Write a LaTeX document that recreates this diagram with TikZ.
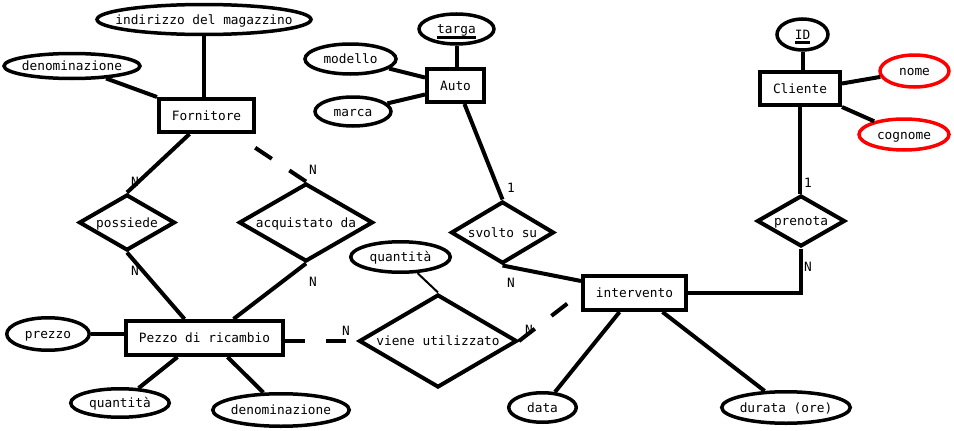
\documentclass[tikz,border=0pt]{standalone}
\usepackage{fontspec}
\setmainfont{DejaVu Sans Mono}
\usetikzlibrary{shapes.geometric}
% key attribute: text with a thick bar below the baseline
\newcommand\keyattr[1]{\vtop{\hbox{\raisebox{0pt}[\height][0pt]{#1}}\kern2pt\hrule height 2.8pt}}
\tikzset{
  every node/.append style={font=\fontsize{12.8}{15}\selectfont, text height=9.5pt, text depth=0pt},
  entity/.style={draw, rectangle, line width=4pt, inner sep=0pt},
  relation/.style={draw, diamond, aspect=1.7, line width=4pt, inner sep=0pt},
  attr/.style={draw, ellipse, line width=3.5pt, inner xsep=-50pt, inner ysep=0pt},
  redattr/.style={attr, draw=red},
  card/.style={inner sep=0pt},
  link/.style={line width=4pt},
  dlink/.style={line width=4pt, dash pattern=on 20pt off 21pt},
  dlinktwo/.style={line width=4pt, dash pattern=on 20pt off 21pt on 20pt off 60pt},
  thinlink/.style={line width=2pt},
}
\begin{document}
\begin{tikzpicture}[x=1pt, y=-1pt]
\useasboundingbox (0,0) rectangle (954,431);

% entities
\node[entity, minimum width=95pt, minimum height=33pt] (forn) at (206.5,115.5) {Fornitore};
\node[entity, minimum width=57pt, minimum height=33pt] (auto) at (455.5,85.5) {Auto};
\node[entity, minimum width=80pt, minimum height=33pt] (cli) at (800,88.5) {Cliente};
\node[entity, minimum width=103pt, minimum height=34pt] (interv) at (634.5,293) {intervento};
\node[entity, minimum width=157pt, minimum height=34pt] (pezzo) at (204.5,338) {Pezzo di ricambio};

% relationships
\node[relation, minimum width=88pt, minimum height=51pt] (pren) at (801,221) {prenota};
\node[relation, minimum width=96pt, minimum height=56pt] (poss) at (127,222.5) {possiede};
\node[relation, minimum width=134pt, minimum height=78pt] (acq) at (306,222.5) {acquistato da};
\node[relation, minimum width=103pt, minimum height=62pt] (svolto) at (502.5,232.5) {svolto su};
\node[relation, minimum width=158pt, minimum height=93pt] (viene) at (438,341) {viene utilizzato};

% attributes
\node[attr, minimum width=214pt, minimum height=30pt] (ind) at (204,19.5) {indirizzo del magazzino};
\node[attr, minimum width=136pt, minimum height=25pt] (den1) at (72,66) {denominazione};
\node[attr, minimum width=75pt, minimum height=30pt] (targa) at (456.5,29) {\keyattr{targa}};
\node[attr, minimum width=91pt, minimum height=30pt] (mod) at (350.5,59) {modello};
\node[attr, minimum width=76pt, minimum height=29pt] (marca) at (353,111.5) {marca};
\node[attr, minimum width=51pt, minimum height=31pt] (id) at (802.5,34.5) {\keyattr{ID}};
\node[redattr, minimum width=69pt, minimum height=32pt] (nome) at (914.5,71) {nome};
\node[redattr, minimum width=90pt, minimum height=31pt] (cog) at (904,134.5) {cognome};
\node[attr, minimum width=67.5pt, minimum height=29.5pt] (data) at (542.5,407.5) {data};
\node[attr, minimum width=128.5pt, minimum height=31.5pt] (durata) at (786,407.5) {durata (ore)};
\node[attr, minimum width=99.5pt, minimum height=30.5pt] (qta1) at (400.5,257) {quantità};
\node[attr, minimum width=82.5pt, minimum height=32.5pt] (prezzo) at (48,334) {prezzo};
\node[attr, minimum width=98.5pt, minimum height=28.5pt] (qta2) at (120,403) {quantità};
\node[attr, minimum width=136.5pt, minimum height=32.5pt] (den2) at (281,410) {denominazione};

% cardinalities
\node[card] (cPossA) at (135,182) {N};
\node[card] (cPossB) at (135,271) {N};
\node[card] (cAcqA) at (313,170) {N};
\node[card] (cAcqB) at (313,282) {N};
\node[card] (cSvoA) at (511,188) {1};
\node[card] (cSvoB) at (511,283) {N};
\node[card] (cPreA) at (808,183) {1};
\node[card] (cPreB) at (808,267) {N};
\node[card] (cVieA) at (346,331) {N};
\node[card] (cVieB) at (529,330) {N};

% attribute links
\draw[link] (ind.south) -- (ind.south |- forn.north);
\draw[link] (den1) -- (forn.north west);
\draw[link] (targa.south) -- (targa.south |- auto.north);
\draw[link] (mod) -- ([yshift=8pt]auto.west);
\draw[link] (marca) -- ([yshift=-9pt]auto.west);
\draw[link] (id.south) -- (id.south |- cli.north);
\draw[link] ([yshift=5pt]cli.east) -- (nome);
\draw[link] (cli.south east) -- (cog);
\draw[link] ([xshift=-15pt]interv.south) -- (data);
\draw[link] ([xshift=28pt]interv.south) -- (durata);
\draw[link] (prezzo.east) -- (prezzo.east -| pezzo.west);
\draw[link] ([xshift=-27pt]pezzo.south) -- (qta2);
\draw[link] ([xshift=23pt]pezzo.south) -- (den2);
\draw[thinlink] (qta1) -- (viene.north);

% relationship links
\draw[link] ([xshift=-17pt]forn.south) -- (poss.north);
\draw[link] (poss.south) -- ([xshift=-20pt]pezzo.north);
\draw[dlinktwo] (acq.north) -- ([xshift=28pt]forn.south);
\draw[link] (acq.south) -- ([xshift=29pt]pezzo.north);
\draw[link] ([xshift=9pt]auto.south) -- (svolto.north);
\draw[link] (svolto.south) -- ([yshift=12pt]interv.west);
\draw[link] (cli.south) -- (cli.south |- pren.north);
\draw[link] (pren.south) -- (pren.south |- interv.east) -- (interv.east);
\draw[dlinktwo] (viene.west -| pezzo.east) -- (viene.west);
\draw[dlinktwo] (viene.east) -- (interv.west);
\end{tikzpicture}
\end{document}
